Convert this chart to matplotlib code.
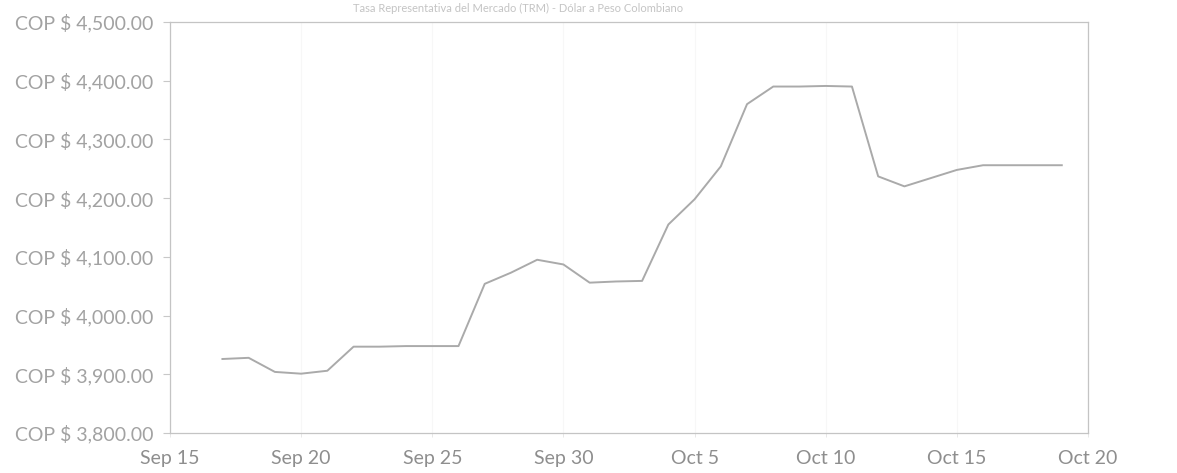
import numpy as np
import pandas as pd
import matplotlib
matplotlib.use("Agg")
import matplotlib.pyplot as plt
import matplotlib.dates as mdates
from matplotlib.ticker import FuncFormatter

# daily TRM values (COP per USD)
dates = pd.date_range("2023-09-17", "2023-10-19", freq="D")
trm = [3926, 3928, 3904, 3901, 3906, 3947, 3947, 3948, 3948, 3948,
       4054, 4073, 4095, 4087, 4056, 4058, 4059,
       4155, 4198, 4254, 4360, 4390, 4390, 4391, 4390,
       4237, 4220, 4234, 4248, 4256, 4256, 4256, 4256]

y_ticks = [3800, 3900, 4000, 4100, 4200, 4300, 4400, 4500]
title = "Tasa Representativa del Mercado (TRM) - Dólar a Peso Colombiano"

plt.rcParams['font.family'] = ['Lato', 'DejaVu Sans']

fig = plt.figure(figsize=(11.77, 4.73), dpi=100)
ax = fig.add_axes([0.1444, 0.0846, 0.78, 0.869])

ax.plot(dates, trm, color="#aaaaaa", lw=1.4, solid_joinstyle="round")

ax.set_xlim(pd.Timestamp("2023-09-15"), pd.Timestamp("2023-10-20"))
ax.set_ylim(3800, 4500)
ax.set_yticks(y_ticks)
ax.yaxis.set_major_formatter(FuncFormatter(lambda v, p: "COP $ {:,.2f}".format(v)))

ax.xaxis.set_major_locator(mdates.DayLocator(bymonthday=[5, 10, 15, 20, 25, 30]))
ax.xaxis.set_major_formatter(FuncFormatter(
    lambda v, p: mdates.num2date(v).strftime("%b ") + str(mdates.num2date(v).day)))

ax.grid(axis="x", color="#f7f7f7", lw=0.8)
for s in ax.spines.values():
    s.set_color("#c4c4c4")
    s.set_linewidth(0.9)
    s.set_linestyle((0, (3, 1)))

ax.tick_params(axis="y", colors="#c8c8c8", labelcolor="#a2a2a2", labelsize=14, length=5, width=0.8, pad=7)
ax.tick_params(axis="x", colors="#e4e4e4", labelcolor="#8e8e8e", labelsize=14, length=3, width=0.6, pad=9)

fig.text(0.44, 0.983, title, ha="center", va="center", fontsize=8, color="#c4c4c4")

fig.savefig("out.png", dpi=100)
